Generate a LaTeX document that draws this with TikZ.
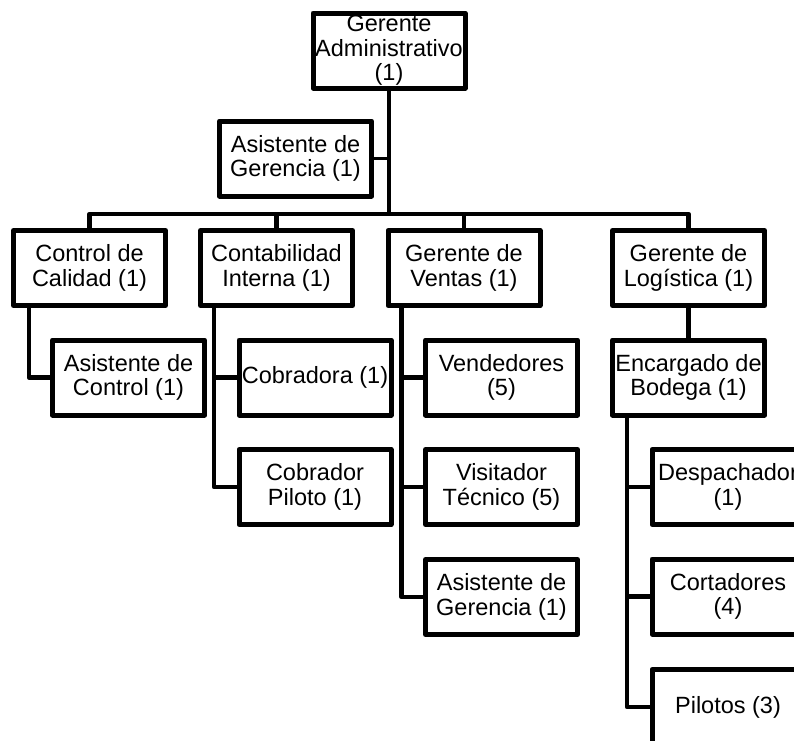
\documentclass[tikz,border=0pt]{standalone}
\usepackage{fontspec}
\setmainfont{Liberation Sans}
\begin{document}
\begin{tikzpicture}[x=1pt, y=-1pt,
  unit/.style={draw, fill=white, line width=5pt, line join=round,
    minimum width=152pt, minimum height=75pt, inner sep=0pt, align=center,
    font=\fontsize{23.5}{24.5}\selectfont},
  link/.style={line width=4.5pt, line join=round},
  thin link/.style={line width=3.5pt}]
\path[use as bounding box, clip] (0,0) rectangle (794,740);
\fill[white] (0,0) rectangle (794,740);

% top level
\node[unit] (ga)  at (389,50.5)   {Gerente\\Administrativo\\(1)};
\node[unit] (ag)  at (295.5,158.5) {Asistente de\\Gerencia (1)};

% department heads
\node[unit] (cc)  at (89.5,268)  {Control de\\Calidad (1)};
\node[unit] (ci)  at (276.5,268) {Contabilidad\\Interna (1)};
\node[unit] (gv)  at (464,268)   {Gerente de\\Ventas (1)};
\node[unit] (gl)  at (688.5,268) {Gerente de\\Logística (1)};

% staff
\node[unit] (ac)  at (128.5,377.5) {Asistente de\\Control (1)};
\node[unit] (cob) at (315,377.5)   {Cobradora (1)};
\node[unit] (ven) at (501.5,377.5) {Vendedores\\(5)};
\node[unit] (eb)  at (688.5,377.5) {Encargado de\\Bodega (1)};
\node[unit] (cp)  at (315,487)     {Cobrador\\Piloto (1)};
\node[unit] (vt)  at (501.5,487)   {Visitador\\Técnico (5)};
\node[unit] (agv) at (501.5,597)   {Asistente de\\Gerencia (1)};
\node[unit] (des) at (728,487)     {Despachador\\(1)};
\node[unit] (cor) at (728,596.5)   {Cortadores\\(4)};
\node[unit] (pil) at (728,707)     {Pilotos (3)};

% main trunk and bus
\coordinate (bus) at (389,214);
\draw[link] (ga.south) -- (bus);
\draw[thin link] (ag.east) -- (ag.east -| ga.south);
\draw[link] (cc.north) |- (bus) -| (gl.north);
\draw[link] (ci.north) -- (ci.north |- bus);
\draw[link] (gv.north) -- (gv.north |- bus);

% sub-trees
\draw[link] ([xshift=18pt]cc.south west) |- (ac.west);
\draw[link] ([xshift=16pt]ci.south west) |- (cp.west);
\draw[link] ([xshift=16pt]ci.south west |- cob.west) -- (cob.west);
\draw[link] ([xshift=16pt]gv.south west) |- (agv.west);
\draw[link] ([xshift=16pt]gv.south west |- ven.west) -- (ven.west);
\draw[link] ([xshift=16pt]gv.south west |- vt.west) -- (vt.west);
\draw[link] (gl.south) -- (eb.north);
\draw[link] ([xshift=17pt]eb.south west) |- (pil.west);
\draw[link] ([xshift=17pt]eb.south west |- des.west) -- (des.west);
\draw[link] ([xshift=17pt]eb.south west |- cor.west) -- (cor.west);
\end{tikzpicture}
\end{document}
